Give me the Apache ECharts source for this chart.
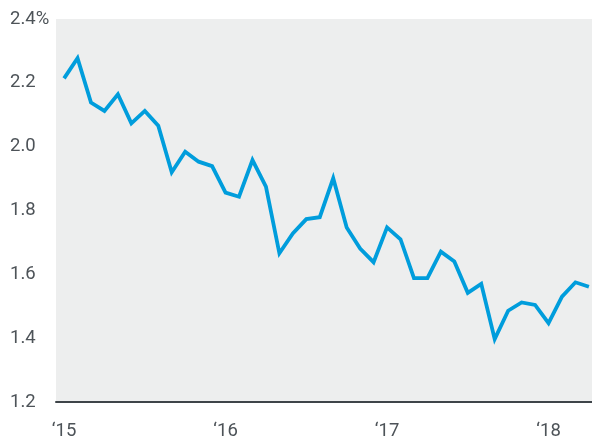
<!DOCTYPE html>
<html>
<head>
<meta charset="utf-8">
<script src="https://cdn.jsdelivr.net/npm/echarts@6/dist/echarts.min.js"></script>
<style>
html,body{margin:0;padding:0;background:#fff;}
#chart{width:592px;height:441px;}
</style>
</head>
<body>
<div id="chart"></div>
<script>
// Monthly observations, Jan 2015 – Apr 2018
const months = [
  "2015-01","2015-02","2015-03","2015-04","2015-05","2015-06","2015-07","2015-08","2015-09","2015-10","2015-11","2015-12",
  "2016-01","2016-02","2016-03","2016-04","2016-05","2016-06","2016-07","2016-08","2016-09","2016-10","2016-11","2016-12",
  "2017-01","2017-02","2017-03","2017-04","2017-05","2017-06","2017-07","2017-08","2017-09","2017-10","2017-11","2017-12",
  "2018-01","2018-02","2018-03","2018-04"
];
const values = [
  2.214, 2.277, 2.138, 2.112, 2.164, 2.073, 2.112, 2.066, 1.920, 1.984, 1.953, 1.939,
  1.856, 1.843, 1.958, 1.875, 1.666, 1.728, 1.773, 1.779, 1.901, 1.747, 1.681, 1.638,
  1.747, 1.710, 1.588, 1.588, 1.671, 1.640, 1.542, 1.570, 1.397, 1.486, 1.512, 1.504,
  1.447, 1.530, 1.575, 1.561
];
const xTickIndex = [0, 12, 24, 36];
const xTickLabels = ["\u201815", "\u201816", "\u201817", "\u201818"];
const yTicks = [1.2, 1.4, 1.6, 1.8, 2.0, 2.2, 2.4];

const FONT = 'Roboto, sans-serif';
const TEXT = '#4d5358';

const data = values.map((v, i) => [i, v]);

const chart = echarts.init(document.getElementById('chart'), null, {renderer: 'canvas'});
chart.setOption({
  animation: false,
  grid: {
    left: 56, right: 0, top: 19, bottom: 39,
    show: true, backgroundColor: '#edeeee', borderWidth: 0
  },
  xAxis: {
    type: 'value',
    min: -0.6,
    max: 39.23,
    splitLine: {show: false},
    axisTick: {show: false},
    axisLine: {show: true, lineStyle: {color: '#3e4449', width: 2}},
    axisLabel: {
      customValues: xTickIndex,
      formatter: v => xTickLabels[xTickIndex.indexOf(Math.round(v))] || '',
      fontFamily: FONT, fontSize: 18.5, color: TEXT, margin: 20
    }
  },
  yAxis: {
    type: 'value',
    min: yTicks[0],
    max: yTicks[yTicks.length - 1],
    interval: 0.2,
    splitLine: {show: false},
    axisTick: {show: false},
    axisLine: {show: false},
    axisLabel: {
      align: 'left',
      margin: 46,
      fontFamily: FONT, fontSize: 18.5, color: TEXT,
      formatter: v => Math.abs(v - 2.4) < 1e-9 ? '2.4%' : v.toFixed(1)
    }
  },
  series: [{
    type: 'line',
    data: data,
    showSymbol: false,
    symbol: 'none',
    lineStyle: {color: '#009ddc', width: 3.8, join: 'miter'},
    clip: false
  }]
});
</script>
</body>
</html>
